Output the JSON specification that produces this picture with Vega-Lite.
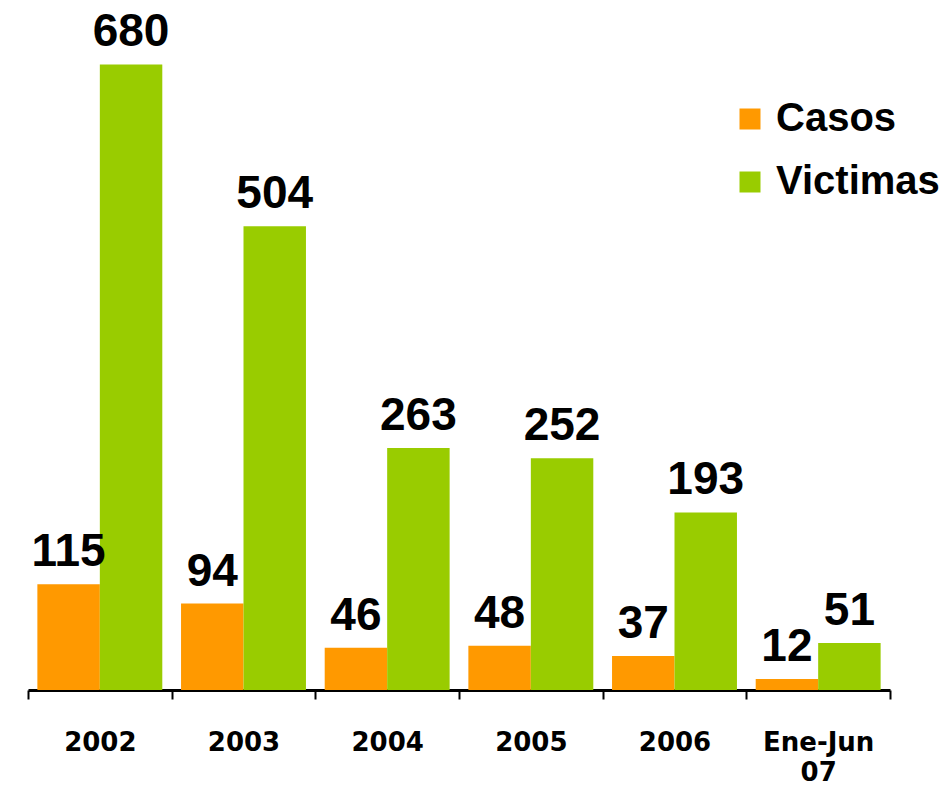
{
  "$schema": "https://vega.github.io/schema/vega-lite/v6.json",
  "width": 862,
  "height": 690,
  "autosize": "none",
  "padding": {"left": 28, "top": 0, "right": 57, "bottom": 95},
  "background": "white",
  "config": {"view": {"stroke": null}},
  "data": {
    "values": [
      {"periodo": "2002", "serie": "Casos", "valor": 115},
      {"periodo": "2002", "serie": "Victimas", "valor": 680},
      {"periodo": "2003", "serie": "Casos", "valor": 94},
      {"periodo": "2003", "serie": "Victimas", "valor": 504},
      {"periodo": "2004", "serie": "Casos", "valor": 46},
      {"periodo": "2004", "serie": "Victimas", "valor": 263},
      {"periodo": "2005", "serie": "Casos", "valor": 48},
      {"periodo": "2005", "serie": "Victimas", "valor": 252},
      {"periodo": "2006", "serie": "Casos", "valor": 37},
      {"periodo": "2006", "serie": "Victimas", "valor": 193},
      {"periodo": "Ene-Jun 07", "serie": "Casos", "valor": 12},
      {"periodo": "Ene-Jun 07", "serie": "Victimas", "valor": 51}
    ]
  },
  "encoding": {
    "x": {
      "field": "periodo",
      "type": "nominal",
      "sort": null,
      "scale": {"paddingInner": 0, "paddingOuter": 0},
      "axis": {
        "title": null,
        "labelAngle": 0,
        "labelFont": "DejaVu Sans",
        "labelFontWeight": "bold",
        "labelFontSize": 26,
        "labelColor": "black",
        "labelPadding": 30,
        "labelLineHeight": 30,
        "labelBaseline": "top",
        "labelExpr": "datum.value == 'Ene-Jun 07' ? ['Ene-Jun', '07'] : datum.label",
        "domainColor": "black",
        "domainWidth": 3,
        "tickColor": "black",
        "tickWidth": 2,
        "tickSize": 9,
        "tickBand": "extent"
      }
    },
    "xOffset": {
      "field": "serie",
      "type": "nominal",
      "sort": ["Casos", "Victimas"],
      "scale": {"paddingInner": 0, "paddingOuter": 0.15}
    },
    "y": {
      "field": "valor",
      "type": "quantitative",
      "scale": {"domain": [0, 750], "nice": false},
      "axis": null
    }
  },
  "layer": [
    {
      "mark": {"type": "bar"},
      "encoding": {
        "color": {
          "field": "serie",
          "type": "nominal",
          "scale": {"domain": ["Casos", "Victimas"], "range": ["#FF9900", "#99CC00"]},
          "legend": {
            "title": null,
            "orient": "none",
            "legendX": 702,
            "legendY": 99,
            "padding": 0,
            "symbolType": "square",
            "symbolSize": 441,
            "symbolStrokeWidth": 0,
            "labelFont": "Liberation Sans",
            "labelFontWeight": "bold",
            "labelFontSize": 40,
            "labelColor": "black",
            "labelOffset": 6,
            "labelLimit": 400,
            "rowPadding": 23
          }
        }
      }
    },
    {
      "mark": {
        "type": "text",
        "baseline": "bottom",
        "dy": -8,
        "font": "Liberation Sans",
        "fontWeight": "bold",
        "fontSize": 46,
        "color": "black"
      },
      "encoding": {"text": {"field": "valor", "type": "quantitative"}}
    }
  ]
}
